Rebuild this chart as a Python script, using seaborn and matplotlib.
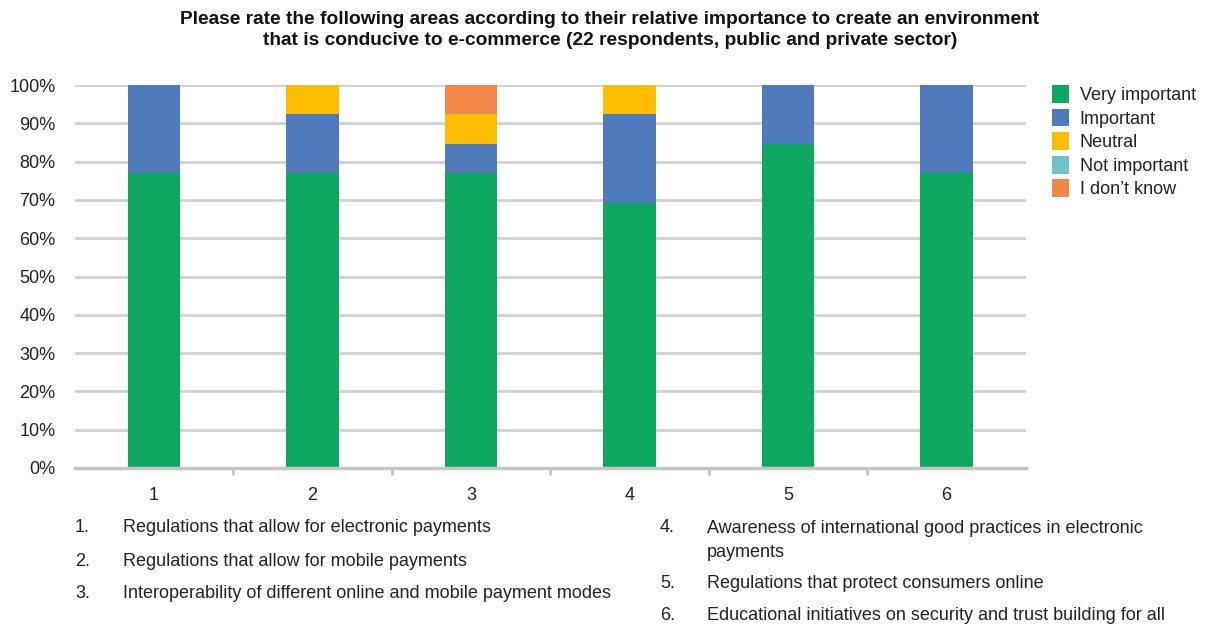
import matplotlib
matplotlib.use("Agg")
import matplotlib.pyplot as plt
from matplotlib.patches import Patch
import seaborn as sns
import pandas as pd
import numpy as np

# Share of respondents (%) per rating, areas 1-6
areas = ["1", "2", "3", "4", "5", "6"]
very_important = [76.9, 76.9, 76.9, 69.2, 84.6, 76.9]
important = [23.1, 15.4, 7.7, 23.1, 15.4, 23.1]
neutral = [0.0, 7.7, 7.7, 7.7, 0.0, 0.0]
not_important = [0.0, 0.0, 0.0, 0.0, 0.0, 0.0]
dont_know = [0.0, 0.0, 7.7, 0.0, 0.0, 0.0]

ratings = ["Very important", "Important", "Neutral", "Not important", "I don\u2019t know"]
colors = ["#0fa862", "#4f7bbc", "#fdbd00", "#6cc4c4", "#f3874a"]

footnotes_left = [
    ("1.", "Regulations that allow for electronic payments"),
    ("2.", "Regulations that allow for mobile payments"),
    ("3.", "Interoperability of different online and mobile payment modes"),
]
footnotes_right = [
    ("4.", "Awareness of international good practices in electronic\npayments"),
    ("5.", "Regulations that protect consumers online"),
    ("6.", "Educational initiatives on security and trust building for all"),
]

sns.set_theme(style="white")
plt.rcParams["font.family"] = ["Liberation Sans", "DejaVu Sans"]

df = pd.DataFrame({
    "area": areas,
    ratings[0]: very_important,
    ratings[1]: important,
    ratings[2]: neutral,
    ratings[3]: not_important,
    ratings[4]: dont_know,
})
cum = df[ratings].cumsum(axis=1)

fig = plt.figure(figsize=(12.08, 6.32), dpi=100)
ax = fig.add_axes([0.062, 0.2595, 0.787, 0.606])

# stacked bars: draw cumulative totals from the top segment down
for rating, color in reversed(list(zip(ratings, colors))):
    sns.barplot(x=df["area"], y=cum[rating], color=color, width=0.33,
                saturation=1, linewidth=0, edgecolor="none", ax=ax, zorder=3)

ax.set_ylim(0, 100)
ax.set_xlim(-0.5, 5.5)
ax.set_yticks(np.arange(0, 101, 10))
ax.set_yticklabels([f"{v}%" for v in range(0, 101, 10)], fontsize=13, color="#222222")
ax.set_xticks(range(6))
ax.set_xticklabels(areas, fontsize=13, color="#222222")
ax.set_xlabel("")
ax.set_ylabel("")
ax.grid(axis="y", color="#d2d2d2", linewidth=2, zorder=0)
ax.set_axisbelow(True)
for side in ["top", "right", "left"]:
    ax.spines[side].set_visible(False)
ax.spines["bottom"].set_color("#c4c4c4")
ax.spines["bottom"].set_linewidth(2.5)
ax.spines["bottom"].set_zorder(4)
ax.tick_params(axis="y", length=0, pad=14)
ax.tick_params(axis="x", length=0, pad=14)
# small separators between categories on the baseline
for b in np.arange(0.5, 5.5, 1.0):
    ax.plot([b, b], [0, -1.6], color="#c4c4c4", lw=2, clip_on=False, zorder=4)

handles = [Patch(facecolor=c, edgecolor="none") for c in colors]
fig.legend(handles, ratings, loc="upper left", bbox_to_anchor=(0.8647, 0.877),
           frameon=False, fontsize=13, handlelength=0.95, handleheight=1.15,
           handletextpad=0.6, labelspacing=0.25, borderaxespad=0,
           labelcolor="#222222")

fig.text(0.505, 0.982,
         "Please rate the following areas according to their relative importance to create an environment\n"
         "that is conducive to e-commerce (22 respondents, public and private sector)",
         ha="center", va="top", fontsize=13.8, fontweight="bold", linespacing=1.3,
         color="#111111")

left_y = [527, 561, 593]
for (num, txt), y in zip(footnotes_left, left_y):
    fig.text(75 / 1208, 1 - y / 632, num, ha="left", va="center", fontsize=13, color="#222222")
    fig.text(123 / 1208, 1 - y / 632, txt, ha="left", va="center", fontsize=13, color="#222222")

right_y = [527, 584, 616]
for (num, txt), y in zip(footnotes_right, right_y):
    fig.text(660 / 1208, 1 - y / 632, num, ha="left", va="center", fontsize=13, color="#222222")
    if "\n" in txt:
        fig.text(707 / 1208, 1 - (y - 7) / 632, txt, ha="left", va="top",
                 fontsize=13, color="#222222", linespacing=1.55)
    else:
        fig.text(707 / 1208, 1 - y / 632, txt, ha="left", va="center",
                 fontsize=13, color="#222222")

fig.savefig("out.png", dpi=100, facecolor="white")
